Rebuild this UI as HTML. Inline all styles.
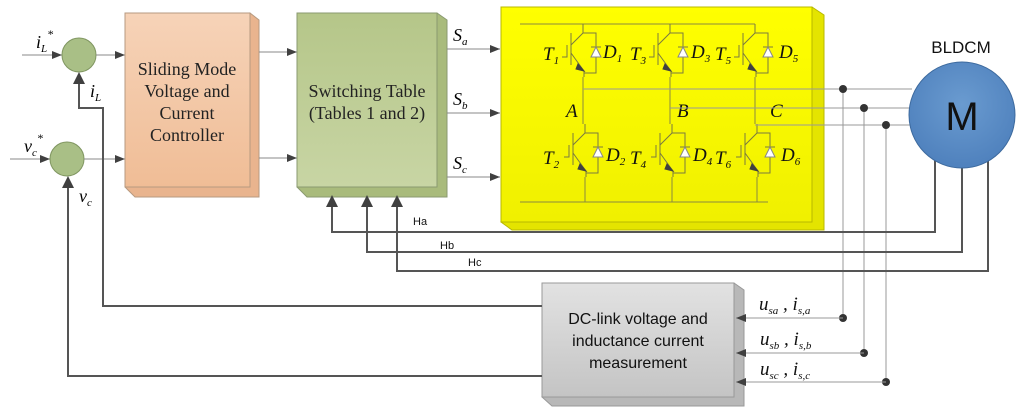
<!DOCTYPE html>
<html><head><meta charset="utf-8"><style>
html,body{margin:0;padding:0;background:#fff;}
svg{display:block;}
.s{font-family:"Liberation Serif",serif;}
.a{font-family:"Liberation Sans","DejaVu Sans",sans-serif;}
</style></head><body>
<svg width="1024" height="412" viewBox="0 0 1024 412" xmlns="http://www.w3.org/2000/svg">
<defs>
<marker id="ar" markerWidth="10" markerHeight="8" refX="10" refY="4" orient="auto" markerUnits="userSpaceOnUse"><path d="M0,0 L10,4 L0,8 z" fill="#404040"/></marker>
<linearGradient id="og" x1="0" y1="0" x2="0" y2="1"><stop offset="0" stop-color="#f6d3b8"/><stop offset="1" stop-color="#f0bd96"/></linearGradient>
<linearGradient id="gg" x1="0" y1="0" x2="0" y2="1"><stop offset="0" stop-color="#b5c689"/><stop offset="1" stop-color="#c8d5a4"/></linearGradient>
<linearGradient id="yg" x1="0" y1="0" x2="0" y2="1"><stop offset="0" stop-color="#ffff00"/><stop offset="1" stop-color="#f0f000"/></linearGradient>
<linearGradient id="gr" x1="0" y1="0" x2="0" y2="1"><stop offset="0" stop-color="#e2e2e2"/><stop offset="1" stop-color="#c4c4c4"/></linearGradient>
<radialGradient id="mg" cx="0.5" cy="0.4" r="0.6"><stop offset="0" stop-color="#6a9bd0"/><stop offset="1" stop-color="#4f81bd"/></radialGradient>
<g id="tr" fill="none" stroke="#7a7a40" stroke-width="1">
 <path d="M0,-9 V0 L-12,12"/>
 <path d="M-12,0 V32"/>
 <path d="M-21,24 H-16 V12"/>
 <path d="M-12,20 L1,38 V44"/>
 <path d="M0,0 H13 V40 H1"/>
 <path d="M8,14 H18"/>
 <path d="M13,0 V14 M13,24 V40"/>
 <path d="M-5,31 L1,38 L-7,36 z" fill="#404040" stroke="#404040"/>
 <path d="M8,24 L13,14 L18,24 z" fill="#fff" stroke="#888"/>
</g>
</defs>

<!-- inputs -->
<line x1="22" y1="55" x2="62" y2="55" stroke="#888" marker-end="url(#ar)"/>
<line x1="10" y1="159" x2="50" y2="159" stroke="#888" marker-end="url(#ar)"/>
<circle cx="79" cy="55" r="17" fill="#a9bf86" stroke="#7f9560"/>
<circle cx="67" cy="159" r="17" fill="#a9bf86" stroke="#7f9560"/>
<line x1="96" y1="55" x2="125" y2="55" stroke="#888" marker-end="url(#ar)"/>
<line x1="84" y1="159" x2="125" y2="159" stroke="#888" marker-end="url(#ar)"/>
<text class="s" x="36" y="48" font-size="18" font-style="italic">i<tspan font-size="11" dy="4">L</tspan><tspan font-size="12" dy="-14">*</tspan></text>
<text class="s" x="24" y="152" font-size="18" font-style="italic">v<tspan font-size="11" dy="4">c</tspan><tspan font-size="12" dy="-14">*</tspan></text>
<text class="s" x="90" y="97" font-size="18" font-style="italic">i<tspan font-size="11" dy="4">L</tspan></text>
<text class="s" x="79" y="202" font-size="18" font-style="italic">v<tspan font-size="11" dy="4">c</tspan></text>

<!-- orange box -->
<path d="M250,13 L259,20 V197 H135 L125,187 Z" fill="#e9b48e" stroke="#b79a80"/>
<rect x="125" y="13" width="125" height="174" fill="url(#og)" stroke="#b79a80"/>
<text class="s" font-size="18" text-anchor="middle" fill="#222"><tspan x="187" y="75">Sliding Mode</tspan><tspan x="187" y="97">Voltage and</tspan><tspan x="187" y="119">Current</tspan><tspan x="187" y="141">Controller</tspan></text>
<line x1="259" y1="52" x2="297" y2="52" stroke="#888" marker-end="url(#ar)"/>
<line x1="259" y1="158" x2="297" y2="158" stroke="#888" marker-end="url(#ar)"/>

<!-- green box -->
<path d="M437,13 L447,20 V197 H307 L297,187 Z" fill="#a9bb7c" stroke="#8a9a70"/>
<rect x="297" y="13" width="140" height="174" fill="url(#gg)" stroke="#8a9a70"/>
<text class="s" font-size="18" text-anchor="middle" fill="#222"><tspan x="367" y="97">Switching Table</tspan><tspan x="367" y="119">(Tables 1 and 2)</tspan></text>
<g stroke="#888"><line x1="447" y1="49" x2="500" y2="49" marker-end="url(#ar)"/><line x1="447" y1="113" x2="500" y2="113" marker-end="url(#ar)"/><line x1="447" y1="177" x2="500" y2="177" marker-end="url(#ar)"/></g>
<text class="s" font-size="18" font-style="italic" x="453" y="41">S<tspan font-size="11" dy="4">a</tspan></text>
<text class="s" font-size="18" font-style="italic" x="453" y="105">S<tspan font-size="11" dy="4">b</tspan></text>
<text class="s" font-size="18" font-style="italic" x="453" y="169">S<tspan font-size="11" dy="4">c</tspan></text>

<!-- yellow box -->
<path d="M812,7 L824,15 V230 H512 L501,222 Z" fill="#e4e400" stroke="#b8b800"/>
<rect x="501" y="7" width="311" height="215" fill="url(#yg)" stroke="#b8b800"/>
<g fill="none" stroke="#8a8a40" stroke-width="1">
 <line x1="520" y1="24" x2="755" y2="24"/>
 <line x1="520" y1="202" x2="768" y2="202"/>
 <line x1="583" y1="77" x2="583" y2="124"/>
 <line x1="670" y1="77" x2="670" y2="124"/>
 <line x1="755" y1="77" x2="755" y2="124"/>
 <line x1="585" y1="177" x2="585" y2="202"/>
 <line x1="672" y1="177" x2="672" y2="202"/>
 <line x1="757" y1="177" x2="757" y2="202"/>
</g>
<use href="#tr" x="583" y="33"/><use href="#tr" x="670" y="33"/><use href="#tr" x="755" y="33"/>
<use href="#tr" x="585" y="133"/><use href="#tr" x="672" y="133"/><use href="#tr" x="757" y="133"/>
<g class="s" font-size="19" font-style="italic" fill="#111">
<text x="543" y="60">T<tspan font-size="11" dy="4">1</tspan></text>
<text x="603" y="58">D<tspan font-size="11" dy="4">1</tspan></text>
<text x="630" y="60">T<tspan font-size="11" dy="4">3</tspan></text>
<text x="691" y="58">D<tspan font-size="11" dy="4">3</tspan></text>
<text x="715" y="60">T<tspan font-size="11" dy="4">5</tspan></text>
<text x="779" y="58">D<tspan font-size="11" dy="4">5</tspan></text>
<text x="543" y="164">T<tspan font-size="11" dy="4">2</tspan></text>
<text x="606" y="161">D<tspan font-size="11" dy="4">2</tspan></text>
<text x="630" y="164">T<tspan font-size="11" dy="4">4</tspan></text>
<text x="693" y="161">D<tspan font-size="11" dy="4">4</tspan></text>
<text x="715" y="164">T<tspan font-size="11" dy="4">6</tspan></text>
<text x="781" y="161">D<tspan font-size="11" dy="4">6</tspan></text>
<text x="566" y="117">A</text><text x="677" y="117">B</text><text x="770" y="117">C</text>
</g>

<!-- phase lines -->
<g stroke="#999" fill="none">
<line x1="583" y1="89" x2="912" y2="89"/>
<line x1="670" y1="108" x2="910" y2="108"/>
<line x1="755" y1="125" x2="912" y2="125"/>
<line x1="843" y1="89" x2="843" y2="318"/>
<line x1="864" y1="108" x2="864" y2="353"/>
<line x1="886" y1="125" x2="886" y2="382"/>
</g>
<g fill="#333"><circle cx="843" cy="89" r="4"/><circle cx="864" cy="108" r="4"/><circle cx="886" cy="125" r="4"/>
<circle cx="843" cy="318" r="4"/><circle cx="864" cy="353" r="4"/><circle cx="886" cy="382" r="4"/></g>

<!-- motor -->
<text class="a" x="961" y="53" font-size="17" text-anchor="middle" fill="#111">BLDCM</text>
<g stroke="#555" stroke-width="2" fill="none">
<path d="M935,160 V232 H332 V197"/>
<path d="M962,160 V252 H367 V197"/>
<path d="M988,160 V271 H397 V197"/>
</g>
<g fill="#404040"><path d="M326,207 L332,195 L338,207z"/><path d="M361,207 L367,195 L373,207z"/><path d="M391,207 L397,195 L403,207z"/></g>
<circle cx="962" cy="115" r="53" fill="url(#mg)" stroke="#3d6a9e"/>
<text class="a" x="962" y="130" font-size="40" text-anchor="middle" fill="#111">M</text>
<g class="a" font-size="11" fill="#111"><text x="413" y="225">Ha</text><text x="440" y="249">Hb</text><text x="468" y="266">Hc</text></g>

<!-- gray box -->
<path d="M734,283 L744,290 V406 H552 L542,397 Z" fill="#b8b8b8" stroke="#999"/>
<rect x="542" y="283" width="192" height="114" fill="url(#gr)" stroke="#999"/>
<text class="a" font-size="16" text-anchor="middle" fill="#111"><tspan x="638" y="324">DC-link voltage and</tspan><tspan x="638" y="346">inductance current</tspan><tspan x="638" y="368">measurement</tspan></text>
<g stroke="#999"><line x1="843" y1="318" x2="736" y2="318" marker-end="url(#ar)"/><line x1="864" y1="353" x2="736" y2="353" marker-end="url(#ar)"/><line x1="886" y1="382" x2="736" y2="382" marker-end="url(#ar)"/></g>
<g class="s" font-size="19" font-style="italic" fill="#111">
<text x="759" y="310">u<tspan font-size="11" dy="4">sa</tspan><tspan dy="-4"> , i</tspan><tspan font-size="11" dy="4">s,a</tspan></text>
<text x="760" y="345">u<tspan font-size="11" dy="4">sb</tspan><tspan dy="-4"> , i</tspan><tspan font-size="11" dy="4">s,b</tspan></text>
<text x="760" y="375">u<tspan font-size="11" dy="4">sc</tspan><tspan dy="-4"> , i</tspan><tspan font-size="11" dy="4">s,c</tspan></text>
</g>

<!-- feedback -->
<g stroke="#555" stroke-width="2" fill="none">
<path d="M542,306 H103 V108 H79 V82"/>
<path d="M542,376 H68 V186"/>
</g>
<g fill="#404040"><path d="M73,84 L79,72 L85,84z"/><path d="M62,188 L68,176 L74,188z"/></g>
</svg>
</body></html>
